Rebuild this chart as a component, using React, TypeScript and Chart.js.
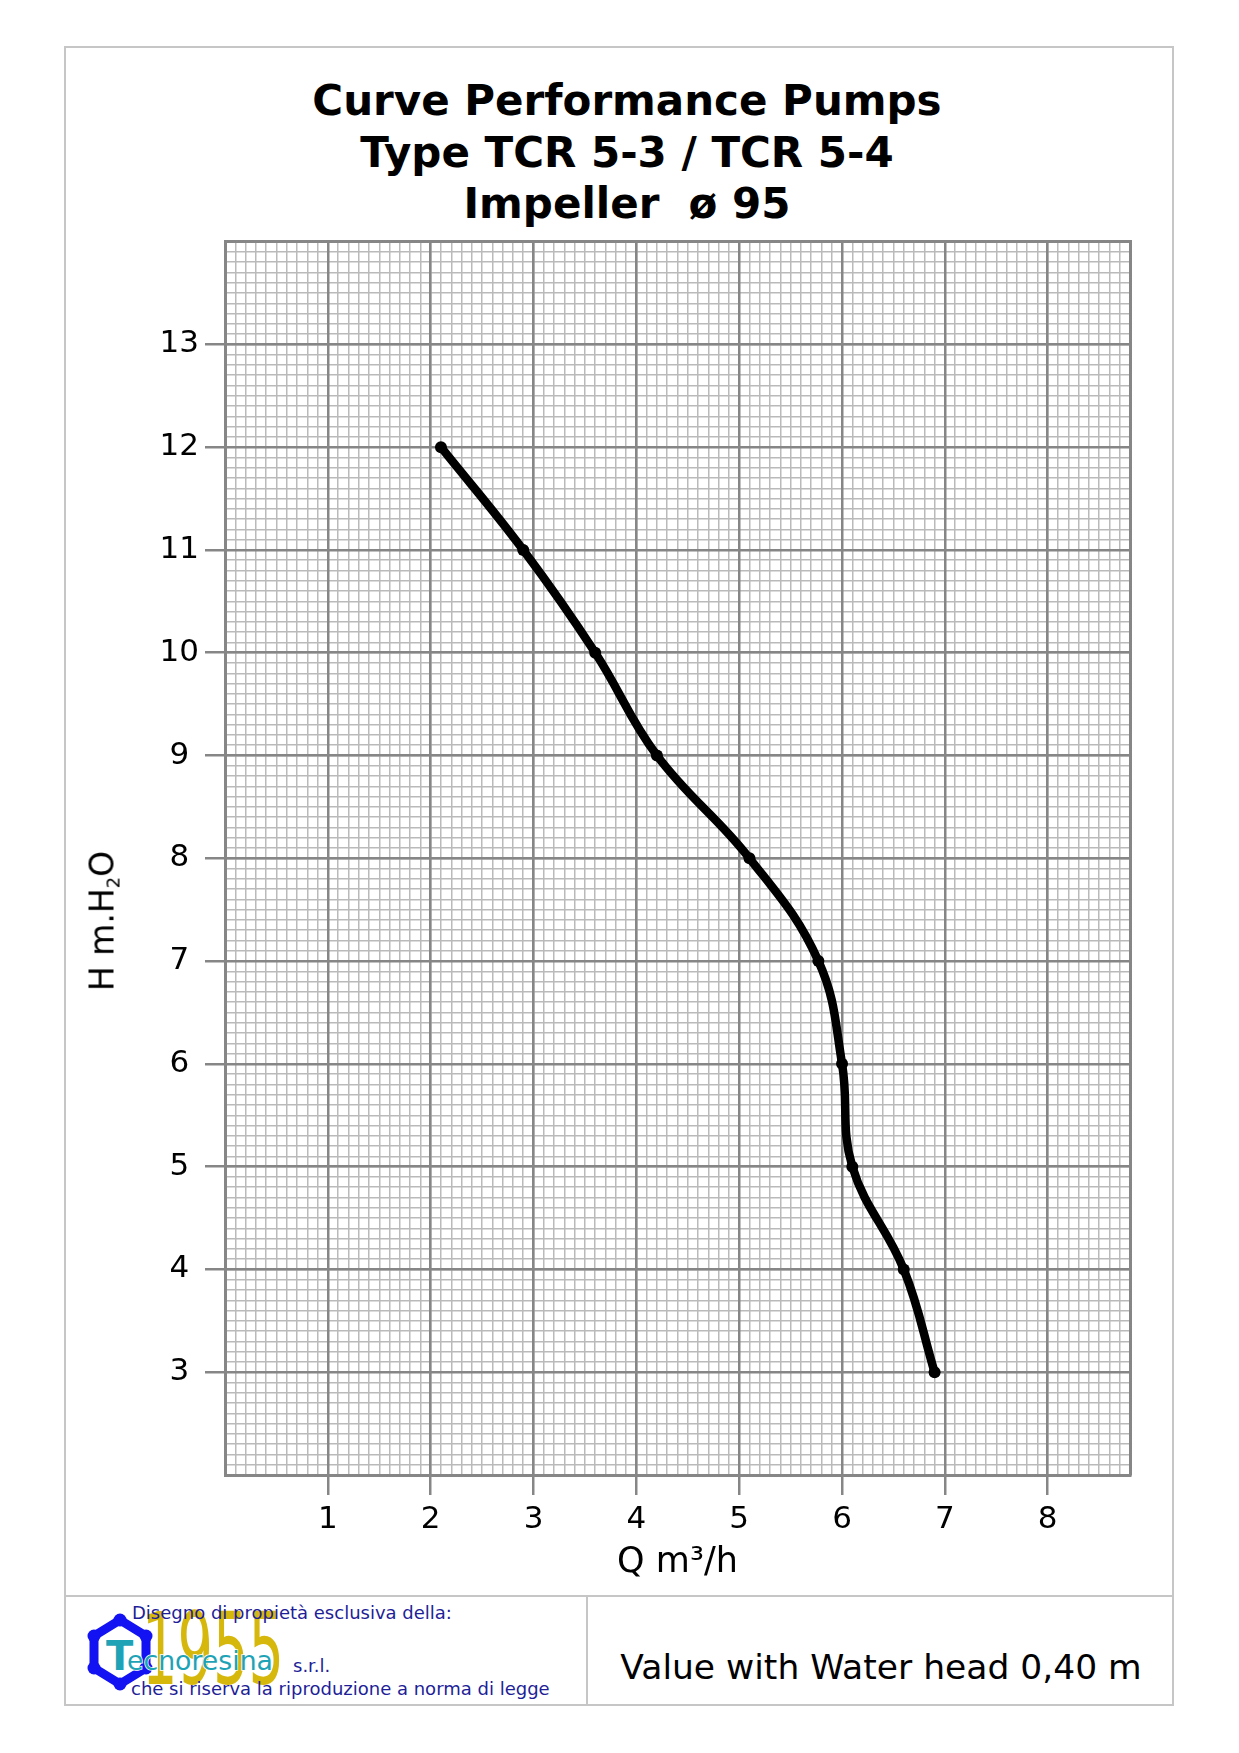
import React, { useEffect, useRef } from "react";
import { Chart, registerables } from "chart.js";

Chart.register(...registerables);

// ---- data ----
const flowQ = [2.1, 2.9, 3.6, 4.2, 5.1, 5.77, 6.0, 6.1, 6.6, 6.9];
const headH = [12, 11, 10, 9, 8, 7, 6, 5, 4, 3];
const xLabelTicks = [1, 2, 3, 4, 5, 6, 7, 8];
const yLabelTicks = [3, 4, 5, 6, 7, 8, 9, 10, 11, 12, 13];
const xRange = [0, 8.8];
const yRange = [2, 14];
const titleLines = ["Curve Performance Pumps", "Type TCR 5-3 / TCR 5-4", "Impeller  ø 95"];
const xTitle = "Q m³/h";
const footerNote = "Value with Water head 0,40 m";
const ownerLine1 = "Disegno di propietà esclusiva della:";
const ownerLine2 = "che si riserva la riproduzione a norma di legge";

const MAJOR = "#868686";
const MINOR = "#bababa";
const FONT = "DejaVu Sans";

export default function App() {
  const ref = useRef<HTMLCanvasElement>(null);

  useEffect(() => {
    const canvas = ref.current;
    if (!canvas) return;
    const tickFont = { family: FONT, size: 31 };
    const chart = new Chart(canvas, {
      type: "line",
      data: {
        datasets: [
          {
            data: flowQ.map((q, i) => ({ x: q, y: headH[i] })),
            borderColor: "#000",
            backgroundColor: "#000",
            borderWidth: 8.5,
            pointRadius: 6,
            pointBackgroundColor: "#000",
            pointBorderWidth: 0,
            tension: 0.4,
            fill: false,
            xAxisID: "x",
            yAxisID: "y",
          },
        ],
      },
      options: {
        animation: false,
        responsive: false,
        maintainAspectRatio: false,
        events: [],
        layout: { padding: { top: 11, right: 30, left: 0, bottom: 0 } },
        plugins: { legend: { display: false }, tooltip: { enabled: false }, title: { display: false } },
        scales: {
          xMinor: {
            type: "linear",
            position: "top",
            min: xRange[0],
            max: xRange[1],
            ticks: { display: false, stepSize: 0.1 },
            grid: { color: MINOR, lineWidth: 1.5, drawTicks: false, z: -3 },
            border: { display: true, color: MAJOR, width: 3 },
            afterFit: (s: any) => {
              s.height = 0;
            },
          },
          yMinor: {
            type: "linear",
            position: "right",
            min: yRange[0],
            max: yRange[1],
            ticks: { display: false, stepSize: 0.1 },
            grid: { color: MINOR, lineWidth: 1.5, drawTicks: false, z: -3 },
            border: { display: true, color: MAJOR, width: 3 },
            afterFit: (s: any) => {
              s.width = 0;
            },
          },
          x: {
            type: "linear",
            position: "bottom",
            min: xRange[0],
            max: xRange[1],
            ticks: {
              stepSize: 1,
              includeBounds: false,
              font: tickFont,
              color: "#000",
              padding: 6,
              autoSkip: false,
              maxRotation: 0,
              callback: (v: any) => (xLabelTicks.includes(Number(v)) ? String(v) : ""),
            },
            grid: {
              color: MAJOR,
              lineWidth: 2.5,
              tickLength: 20,
              tickWidth: 2.5,
              tickColor: (c: any) => (c.tick && xLabelTicks.includes(c.tick.value) ? MAJOR : "rgba(0,0,0,0)"),
              z: -2,
            },
            border: { display: true, color: MAJOR, width: 3 },
            title: {
              display: true,
              text: xTitle,
              color: "#000",
              font: { family: FONT, size: 35 },
              padding: { top: 0, bottom: 6 },
            },
            afterFit: (s: any) => {
              s.height = 115;
            },
          },
          y: {
            type: "linear",
            position: "left",
            min: yRange[0],
            max: yRange[1],
            ticks: {
              stepSize: 1,
              includeBounds: false,
              font: tickFont,
              color: "#000",
              padding: 6,
              crossAlign: "center",
              autoSkip: false,
              callback: (v: any) => (yLabelTicks.includes(Number(v)) ? String(v) : ""),
            },
            grid: {
              color: MAJOR,
              lineWidth: 2.5,
              tickLength: 20,
              tickWidth: 2.5,
              tickColor: (c: any) => (c.tick && yLabelTicks.includes(c.tick.value) ? MAJOR : "rgba(0,0,0,0)"),
              z: -2,
            },
            border: { display: true, color: MAJOR, width: 3 },
            afterFit: (s: any) => {
              s.width = 125;
            },
          },
        },
      } as any,
    });
    return () => chart.destroy();
  }, []);

  const navy = "#1e1e98";

  return (
    <div
      style={{
        position: "absolute",
        left: 0,
        top: 0,
        width: 1239,
        height: 1753,
        background: "#fff",
        fontFamily: FONT,
        color: "#000",
        overflow: "hidden",
      }}
    >
      {/* outer frame */}
      <div
        style={{
          position: "absolute",
          left: 64,
          top: 46,
          width: 1110,
          height: 1660,
          border: "2px solid #c6c6c6",
          boxSizing: "border-box",
        }}
      />
      <div style={{ position: "absolute", left: 64, top: 1595, width: 1110, height: 2, background: "#c6c6c6" }} />
      <div style={{ position: "absolute", left: 586, top: 1595, width: 2, height: 110, background: "#c6c6c6" }} />

      {/* title */}
      <div
        style={{
          position: "absolute",
          left: 0,
          top: 75,
          width: 1254,
          textAlign: "center",
          fontWeight: "bold",
          fontSize: 42,
          lineHeight: "51.5px",
          whiteSpace: "pre",
        }}
      >
        {titleLines.map((t, i) => (
          <div key={i}>{t}</div>
        ))}
      </div>

      {/* chart canvas */}
      <canvas
        ref={ref}
        width={1060}
        height={1373}
        style={{ position: "absolute", left: 100, top: 217, width: 1060, height: 1373 }}
      />

      {/* y axis title */}
      <div
        style={{
          position: "absolute",
          left: 108,
          top: 921,
          transform: "translate(-50%, -50%) rotate(-90deg)",
          whiteSpace: "nowrap",
          fontSize: 33,
          lineHeight: "40px",
        }}
      >
        H m.H<sub style={{ fontSize: 18, verticalAlign: "-6px" }}>2</sub>O
      </div>

      {/* footer right */}
      <div
        style={{
          position: "absolute",
          left: 588,
          width: 586,
          top: 1647,
          textAlign: "center",
          fontSize: 34.5,
          lineHeight: "40px",
          whiteSpace: "nowrap",
        }}
      >
        {footerNote}
      </div>

      {/* footer left: logo + owner text */}
      <svg
        style={{ position: "absolute", left: 90, top: 1612, overflow: "visible" }}
        width={220}
        height={86}
      >
        <text
          x={52}
          y={72}
          fontFamily={FONT}
          fontSize={100}
          fill="#d6b70c"
          textLength={142}
          lengthAdjust="spacingAndGlyphs"
        >
          1955
        </text>
        <polygon
          points="30,8 56,24 56,56 30,72 4,56 4,24"
          fill="none"
          stroke="#1212f2"
          strokeWidth={9}
          strokeLinejoin="round"
        />
        {[
          [30, 8],
          [56, 24],
          [56, 56],
          [30, 72],
          [4, 56],
          [4, 24],
        ].map((p, i) => (
          <circle key={i} cx={p[0]} cy={p[1]} r={6.5} fill="#1212f2" />
        ))}
        <text
          x={16}
          y={58}
          fontFamily={FONT}
          fontWeight="bold"
          fontSize={40}
          fill="#1ea3b6"
          stroke="#fff"
          strokeWidth={1.5}
          paintOrder="stroke"
        >
          T
        </text>
        <text
          x={37}
          y={58}
          fontFamily={FONT}
          fontSize={27}
          fill="#1ea3b6"
          stroke="#fff"
          strokeWidth={1.5}
          paintOrder="stroke"
          textLength={146}
          lengthAdjust="spacingAndGlyphs"
        >
          ecnoresina
        </text>
      </svg>
      <div
        style={{
          position: "absolute",
          left: 132,
          top: 1602,
          fontSize: 18,
          lineHeight: "22px",
          color: navy,
          whiteSpace: "nowrap",
        }}
      >
        {ownerLine1}
      </div>
      <div
        style={{
          position: "absolute",
          left: 293,
          top: 1655,
          fontSize: 18,
          lineHeight: "22px",
          color: navy,
          whiteSpace: "nowrap",
        }}
      >
        s.r.l.
      </div>
      <div
        style={{
          position: "absolute",
          left: 131,
          top: 1678,
          fontSize: 18,
          lineHeight: "22px",
          color: navy,
          whiteSpace: "nowrap",
        }}
      >
        {ownerLine2}
      </div>
    </div>
  );
}
